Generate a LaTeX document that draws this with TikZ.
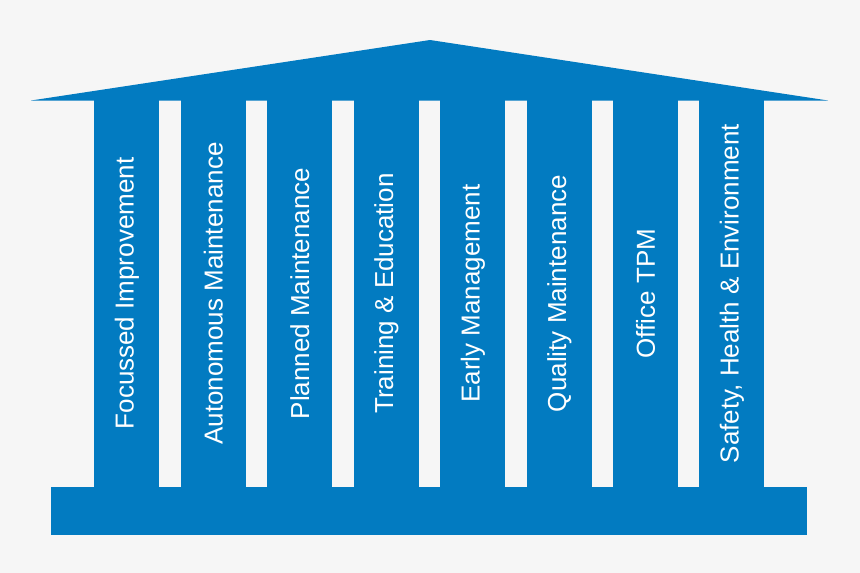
\documentclass[tikz,border=0pt]{standalone}
\usepackage{fontspec}
\setmainfont{Liberation Sans}
\definecolor{bgc}{RGB}{246,246,246}
\definecolor{tpmblue}{RGB}{2,123,193}
\begin{document}
\begin{tikzpicture}[x=1pt,y=-1pt,
  pillar/.style={fill=tpmblue,draw=none,rotate=90,minimum width=387pt,minimum height=65pt,inner sep=0pt,
    text=white,font=\fontsize{26}{30}\selectfont},
  block/.style={fill=tpmblue,draw=none}]
\fill[bgc] (0,0) rectangle (860,573);
\useasboundingbox (0,0) rectangle (860,573);
% roof
\coordinate (rl) at (31,100.5);
\coordinate (ra) at (430,40);
\coordinate (rr) at (828,100.5);
\fill[block] (rl) -- (ra) -- (rr) -- cycle;
% base
\node[block,minimum width=756pt,minimum height=48.5pt,inner sep=0pt,anchor=north west] (base) at (51,486.5) {};
% pillars
\node[pillar] (p1) at (126.8,293.5) {Focussed Improvement};
\node[pillar] (p2) at (213.3,293.5) {Autonomous Maintenance};
\node[pillar] (p3) at (299.8,293.5) {Planned Maintenance};
\node[pillar] (p4) at (386.3,293.5) {Training \& Education};
\node[pillar] (p5) at (472.8,293.5) {Early Management};
\node[pillar] (p6) at (559.3,293.5) {Quality Maintenance};
\node[pillar] (p7) at (645.5,293.5) {Office TPM};
\node[pillar] (p8) at (731.8,293.5) {Safety, Health \& Environment};
\end{tikzpicture}
\end{document}
